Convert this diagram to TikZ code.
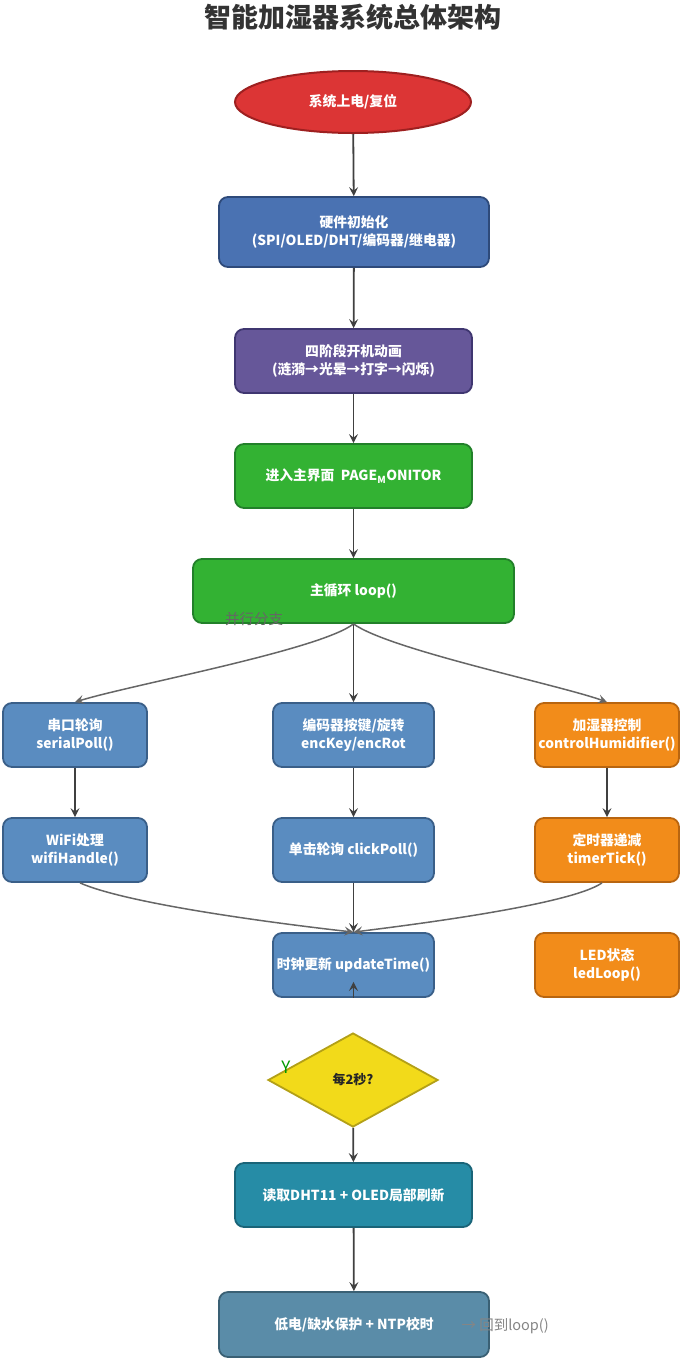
\documentclass[tikz,border=0pt]{standalone}
\usepackage{fontspec}
\setmainfont{Noto Sans CJK SC}
\usetikzlibrary{arrows.meta,shapes.geometric}
\definecolor{cred}{HTML}{DC3535}\definecolor{bred}{HTML}{9E2020}
\definecolor{cblue1}{HTML}{4A72B2}\definecolor{bblue1}{HTML}{2E4A7A}
\definecolor{cpurp}{HTML}{665799}\definecolor{bpurp}{HTML}{3F3670}
\definecolor{cgreen}{HTML}{33B233}\definecolor{bgreen}{HTML}{22802A}
\definecolor{cblue}{HTML}{5A8CC0}\definecolor{bblue}{HTML}{3A5F88}
\definecolor{corange}{HTML}{F28C1A}\definecolor{borange}{HTML}{B86510}
\definecolor{cyel}{HTML}{F2DA1A}\definecolor{byel}{HTML}{B3A017}
\definecolor{cteal}{HTML}{268CA6}\definecolor{bteal}{HTML}{1A6478}
\definecolor{cslate}{HTML}{5A8CA8}\definecolor{bslate}{HTML}{3A6074}
\definecolor{arr}{HTML}{404040}\definecolor{curv}{HTML}{666666}
\tikzset{
  box/.style={rounded corners=9pt, line width=1.8pt, align=center, text=white,
     font=\fontsize{13.8}{18}\selectfont\bfseries, inner sep=0pt},
  flow/.style={draw=arr, line width=1.8pt, -{Stealth[length=9pt,width=9pt,inset=3.5pt]}},
  branch/.style={draw=curv, line width=1.5pt, -{Stealth[length=9pt,width=9pt,inset=3.5pt]}},
}
\begin{document}
\begin{tikzpicture}[x=1pt,y=-1pt]
\useasboundingbox (0,0) rectangle (683,1361);
\node[font=\fontsize{27}{32}\selectfont\bfseries, text=black!80] (title) at (353,17) {智能加湿器系统总体架构};

\node[ellipse, draw=bred, fill=cred, line width=2pt, minimum width=236pt, minimum height=62pt,
  text=white, font=\fontsize{13.8}{18}\selectfont\bfseries, inner sep=0pt] (start) at (353,102) {系统上电/复位};

\node[box, fill=cblue1, draw=bblue1, minimum width=270pt, minimum height=70pt] (hw) at (354,232)
  {硬件初始化\\(SPI/OLED/DHT/编码器/继电器)};
\node[box, fill=cpurp, draw=bpurp, minimum width=237pt, minimum height=64pt] (anim) at (353.5,361)
  {四阶段开机动画\\(涟漪→光晕→打字→闪烁)};
\node[box, fill=cgreen, draw=bgreen, minimum width=237pt, minimum height=64pt] (page) at (353.5,476)
  {进入主界面\ \ PAGE\textsubscript{M}ONITOR};
\node[box, fill=cgreen, draw=bgreen, minimum width=321pt, minimum height=64pt] (loop) at (353.5,591)
  {主循环 loop()};
\node[text=curv, font=\fontsize{14.5}{16}\selectfont] (par) at (254,619) {并行分支};

\node[box, fill=cblue, draw=bblue, minimum width=144pt, minimum height=64pt] (serial) at (75,735)
  {串口轮询\\serialPoll()};
\node[box, fill=cblue, draw=bblue, minimum width=161pt, minimum height=64pt] (enc) at (353.5,735)
  {编码器按键/旋转\\encKey/encRot};
\node[box, fill=corange, draw=borange, minimum width=144pt, minimum height=64pt] (ctrl) at (607,735)
  {加湿器控制\\controlHumidifier()};

\node[box, fill=cblue, draw=bblue, minimum width=144pt, minimum height=64pt] (wifi) at (75,850)
  {WiFi处理\\wifiHandle()};
\node[box, fill=cblue, draw=bblue, minimum width=161pt, minimum height=64pt] (click) at (353.5,850)
  {单击轮询 clickPoll()};
\node[box, fill=corange, draw=borange, minimum width=144pt, minimum height=64pt] (timer) at (607,850)
  {定时器递减\\timerTick()};

\node[box, fill=cblue, draw=bblue, minimum width=161pt, minimum height=64pt] (upd) at (353.5,965)
  {时钟更新 updateTime()};
\node[box, fill=corange, draw=borange, minimum width=144pt, minimum height=64pt] (led) at (607,965)
  {LED状态\\ledLoop()};

\node[diamond, aspect=1.8, fill=cyel, draw=byel, line width=1.8pt, minimum width=170pt, minimum height=94pt,
  inner sep=0pt, font=\fontsize{13}{16}\selectfont\bfseries, text=black!85] (dia) at (353,1080) {每2秒?};
\node[text=green!60!black, font=\fontsize{17}{18}\selectfont] (ylab) at (286,1067) {Y};

\node[box, fill=cteal, draw=bteal, minimum width=237pt, minimum height=64pt] (dht) at (353.5,1195)
  {读取DHT11 + OLED局部刷新};
\node[box, fill=cslate, draw=bslate, minimum width=270pt, minimum height=65pt] (prot) at (354,1324.5)
  {低电/缺水保护 + NTP校时};
\node[text=curv!80, font=\fontsize{14.5}{16}\selectfont, anchor=west] (back) at (458,1326) {→ 回到loop()};

\draw[flow] (start) -- (hw);
\draw[flow] (hw) -- (anim);
\draw[flow] (anim) -- (page);
\draw[flow] (page) -- (loop);
\draw[branch] (loop.south) .. controls (320,650) and (130,685) .. (serial.north);
\draw[flow] (loop.south) -- (enc.north);
\draw[branch] (loop.south) .. controls (390,650) and (560,685) .. (ctrl.north);
\draw[flow] (serial) -- (wifi);
\draw[flow] (enc) -- (click);
\draw[flow] (ctrl) -- (timer);
\draw[branch] ([xshift=5pt]wifi.south) .. controls (130,905) and (290,925) .. (upd.north);
\draw[flow] (click) -- (upd);
\draw[branch] ([xshift=-5pt]timer.south) .. controls (570,905) and (410,925) .. (upd.north);
\coordinate (updin) at ([yshift=16pt]upd.south);
\draw[flow] (upd.south) -- (updin);
\draw[flow] (dia) -- (dht);
\draw[flow] (dht) -- (prot);
\end{tikzpicture}
\end{document}
